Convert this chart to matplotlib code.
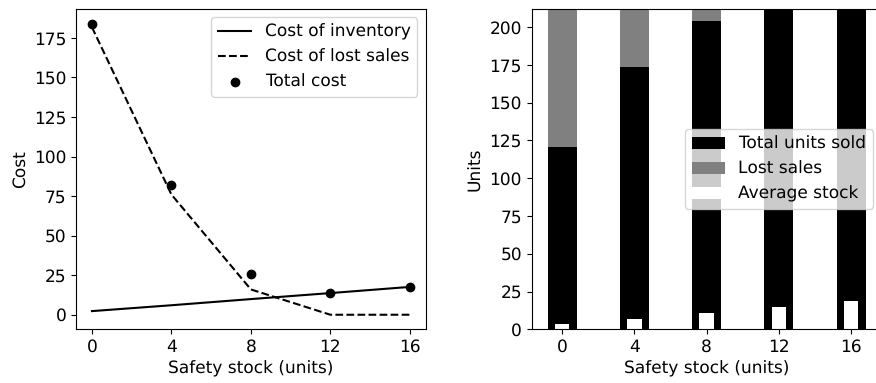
import matplotlib
matplotlib.use("Agg")
import matplotlib.pyplot as plt

# Safety stock levels (units)
safety_stock = [0, 4, 8, 12, 16]

# Cost curves
inventory_cost = [2.3, 6.0, 9.9, 13.7, 17.6]
lost_sales_cost = [181.8, 76.0, 16.0, 0.0, 0.0]
total_cost = [184.1, 82.0, 25.9, 13.7, 17.6]

# Unit flows
units_sold = [120.7, 173.6, 204.0, 230.0, 230.0]
lost_units = [109.3, 56.4, 26.0, 0.0, 0.0]
average_stock = [3.5, 6.8, 11.0, 15.0, 18.9]

plt.rcParams["font.size"] = 12
plt.rcParams["text.hinting"] = "no_hinting"
plt.rcParams["text.hinting_factor"] = 1

fig = plt.figure(figsize=(8.76, 3.83), dpi=100)
ax1 = fig.add_axes([0.0868, 0.1402, 0.3992, 0.8363])
ax2 = fig.add_axes([0.6070, 0.1402, 0.3992, 0.8363])

ax1.plot(safety_stock, inventory_cost, color="black", linestyle="-", label="Cost of inventory")
ax1.plot(safety_stock, lost_sales_cost, color="black", linestyle="--", label="Cost of lost sales")
ax1.scatter(safety_stock, total_cost, color="black", label="Total cost", zorder=3)
ax1.set_xticks(safety_stock)
ax1.set_xlabel("Safety stock (units)")
ax1.set_ylabel("Cost")
ax1.legend(loc="upper right")

ax2.bar(safety_stock, units_sold, width=1.6, color="black", label="Total units sold")
ax2.bar(safety_stock, lost_units, width=1.6, bottom=units_sold, color="grey", label="Lost sales")
ax2.bar(safety_stock, average_stock, width=0.8, color="white", label="Average stock")
ax2.set_xticks(safety_stock)
ax2.set_ylim(0, 212)
ax2.set_xlabel("Safety stock (units)")
ax2.set_ylabel("Units")
ax2.legend(loc="center right")

fig.savefig("out.png", dpi=100)
